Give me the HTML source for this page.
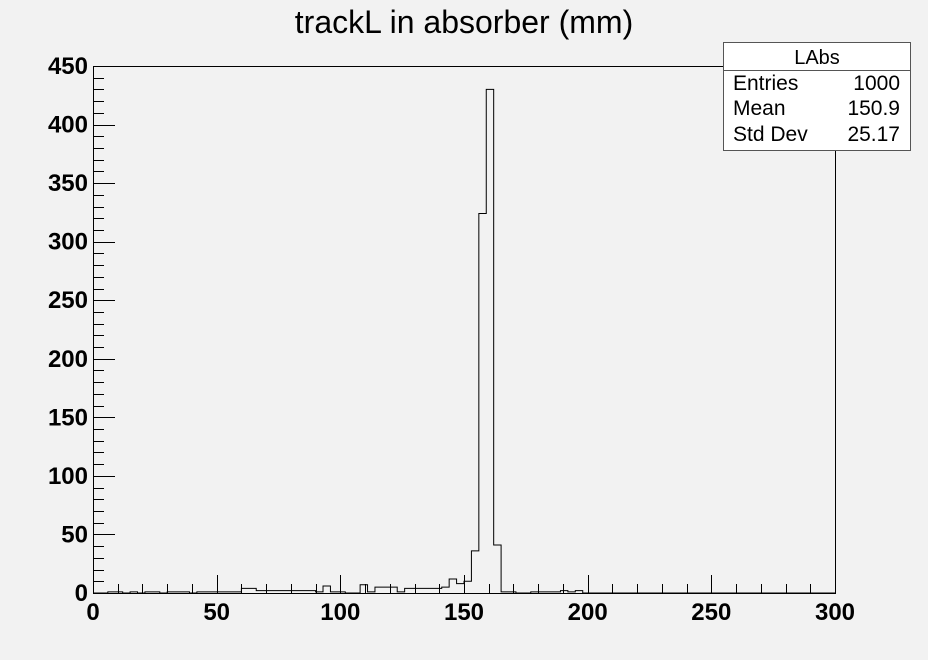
<!DOCTYPE html>
<html><head><meta charset="utf-8"><style>
body{margin:0;background:#f2f2f2;}
svg{display:block;font-family:"Liberation Sans",Arial,sans-serif;}
</style></head><body>
<svg id="c" width="928" height="660">
<rect width="928" height="660" fill="#f2f2f2"/>
<text x="464" y="33" font-size="32" text-anchor="middle" fill="#000">trackL in absorber (mm)</text>
<g id="axes"></g>
<path id="hist" fill="none" stroke="#000" stroke-width="1"/>
<g>
<rect x="723.5" y="42.5" width="187" height="108" fill="#fff" stroke="#555" stroke-width="1"/>
<line x1="723.5" y1="70.5" x2="910.5" y2="70.5" stroke="#555"/>
<text x="817" y="64" font-size="20" text-anchor="middle">LAbs</text>
<text x="733" y="90" font-size="21">Entries</text>
<text x="900" y="90" font-size="21" text-anchor="end">1000</text>
<text x="733" y="115" font-size="21">Mean</text>
<text x="900" y="115" font-size="21" text-anchor="end">150.9</text>
<text x="733" y="141" font-size="21">Std Dev</text>
<text x="900" y="141" font-size="21" text-anchor="end">25.17</text>
</g>
</svg>
<script>
const binCounts=[0,0,1,1,0,1,0,1,1,0,1,1,1,0,1,1,1,1,1,1,4,4,2,2,2,2,2,2,2,2,1,6,1,1,0,0,7,1,5,5,5,1,4,4,4,4,4,5,12,8,10,36,324,430,41,1,1,0,0,1,1,1,1,2,1,2,0,0,0,0,0,0,0,0,0,0,0,0,0,0,0,0,0,0,0,0,0,0,0,0,0,0,0,0,0,0,0,0,0,0];
const xTicks=[0,50,100,150,200,250,300];
const yTicks=[0,50,100,150,200,250,300,350,400,450];
const X0=93,X1=835,Y0=593,Y1=66,XMAX=300,YMAX=450,BINW=3;
const sx=v=>X0+(X1-X0)*v/XMAX, sy=v=>Y0-(Y0-Y1)*v/YMAX;
const ns="http://www.w3.org/2000/svg";
const ax=document.getElementById('axes');
function mk(t,a,p){const e=document.createElementNS(ns,t);for(const k in a)e.setAttribute(k,a[k]);(p||ax).appendChild(e);return e;}
const fr=mk('rect',{x:X0+.5,y:Y1+.5,width:X1-X0,height:Y0-Y1,fill:'none',stroke:'#000'});


for(let v=0;v<=XMAX;v+=10){const x=Math.round(sx(v))+.5,L=v%50===0?18:9;const t=mk('line',{x1:x,y1:Y0,x2:x,y2:Y0-L,stroke:'#000'});

}
for(let v=0;v<=YMAX;v+=10){const y=Math.round(sy(v))+.5,L=v%50===0?22:11;const t=mk('line',{x1:X0,y1:y,x2:X0+L,y2:y,stroke:'#000'});

}
xTicks.forEach(v=>{const t=mk('text',{x:sx(v),y:620,'font-size':24,'font-weight':'bold','text-anchor':'middle'});t.textContent=v;

});
yTicks.forEach(v=>{const t=mk('text',{x:88,y:sy(v)+8,'font-size':24,'font-weight':'bold','text-anchor':'end'});t.textContent=v;

});
let d='M'+sx(0)+','+sy(0);
binCounts.forEach((c,i)=>{d+=' L'+sx(i*BINW)+','+sy(c)+' L'+sx((i+1)*BINW)+','+sy(c);});
d+=' L'+sx(XMAX)+','+sy(0);
document.getElementById('hist').setAttribute('d',d);
</script>
</body></html>
